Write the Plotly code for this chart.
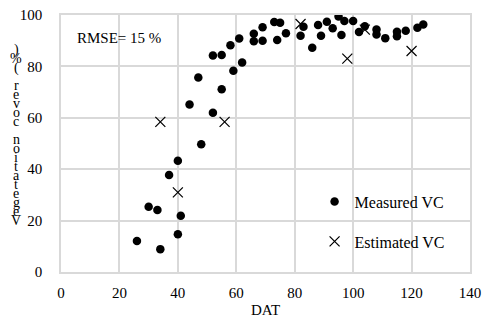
import plotly.graph_objects as go

# Measured vegetation cover (DAT, VC %)
measured_dat = [26, 30, 33, 34, 37, 40, 40, 41, 44, 47, 48, 52, 52, 55, 55, 58, 59, 61, 62,
                66, 66, 69, 69, 73, 74, 75, 77, 82, 83, 86, 88, 89, 91, 93, 95, 96, 97,
                100, 102, 104, 108, 108, 111, 115, 115, 118, 122, 124]
measured_vc = [12.1, 25.4, 24.1, 8.9, 37.7, 43.3, 14.7, 21.9, 65.2, 75.7, 49.7, 84.2, 62.0,
               84.4, 71.1, 88.2, 78.3, 90.9, 81.5, 92.7, 89.8, 95.2, 90.0, 97.3, 90.3, 97.0,
               92.9, 91.9, 95.4, 87.3, 96.1, 91.9, 97.4, 94.8, 99.4, 92.2, 97.7, 97.7, 93.4,
               95.6, 94.4, 92.4, 91.0, 93.5, 91.7, 93.9, 95.0, 96.3]

# Estimated vegetation cover
estimated_dat = [34, 40, 56, 82, 98, 104, 120]
estimated_vc = [58.4, 31.0, 58.4, 96.5, 83.0, 94.3, 86.0]

x_ticks = [0, 20, 40, 60, 80, 100, 120, 140]
y_ticks = [0, 20, 40, 60, 80, 100]
y_title = "Vegetation cover (%)"
x_title = "DAT"
rmse_text = "RMSE= 15 %"

FONT = "Times New Roman, Liberation Serif, serif"
GRID = "#d9d9d9"

fig = go.Figure()
fig.add_trace(go.Scatter(
    x=measured_dat, y=measured_vc, mode="markers", name="Measured VC",
    legendgroup="a",
    marker=dict(symbol="circle", size=8.5, color="black"),
))
fig.add_trace(go.Scatter(
    x=estimated_dat, y=estimated_vc, mode="markers", name="Estimated VC",
    legendgroup="b",
    marker=dict(symbol="x-thin", size=10, color="black",
                line=dict(color="black", width=1.2)),
))

annotations = [dict(
    text=rmse_text, xref="paper", yref="paper", x=0.035, y=0.91,
    xanchor="left", yanchor="middle", showarrow=False,
    font=dict(family=FONT, size=15, color="black"),
)]

# Stacked upright letters for the y-axis title (as in the reference)
chars = list(y_title)[::-1]
n = len(chars)
top_px, bottom_px = 50, 220
for i, ch in enumerate(chars):
    if ch == " ":
        continue
    py = top_px + (bottom_px - top_px) * i / (n - 1)
    annotations.append(dict(
        text=ch, xref="paper", yref="paper",
        x=(16 - 61) / 409, y=(272 - py) / 257,
        xanchor="center", yanchor="middle", showarrow=False,
        font=dict(family=FONT, size=14, color="black"),
    ))

tickfont = dict(family=FONT, size=15, color="black")

fig.update_layout(
    width=484, height=324,
    margin=dict(l=61, r=14, t=15, b=52),
    paper_bgcolor="white", plot_bgcolor="white",
    font=dict(family=FONT, size=15, color="black"),
    showlegend=True,
    legend=dict(x=0.62, y=0.34, xanchor="left", yanchor="top",
                bgcolor="rgba(0,0,0,0)", font=dict(family=FONT, size=16),
                tracegroupgap=16),
    annotations=annotations,
    xaxis=dict(range=[0, 140], tickvals=x_ticks, showgrid=True, gridcolor=GRID,
               gridwidth=1.5, zeroline=False, showline=True, linecolor=GRID,
               linewidth=1.5, mirror=True, ticks="", ticklabelstandoff=6,
               automargin=False, tickfont=tickfont,
               title=dict(text=x_title, standoff=5, font=dict(family=FONT, size=15))),
    yaxis=dict(range=[0, 100], tickvals=y_ticks, showgrid=True, gridcolor=GRID,
               gridwidth=1.5, zeroline=False, showline=True, linecolor=GRID,
               linewidth=1.5, mirror=True, ticks="", ticklabelstandoff=14,
               automargin=False, tickfont=tickfont),
)

fig.write_html(
    "out.html",
    config={"displayModeBar": False},
    post_script="document.body.style.margin='0';document.body.style.padding='0';",
)
